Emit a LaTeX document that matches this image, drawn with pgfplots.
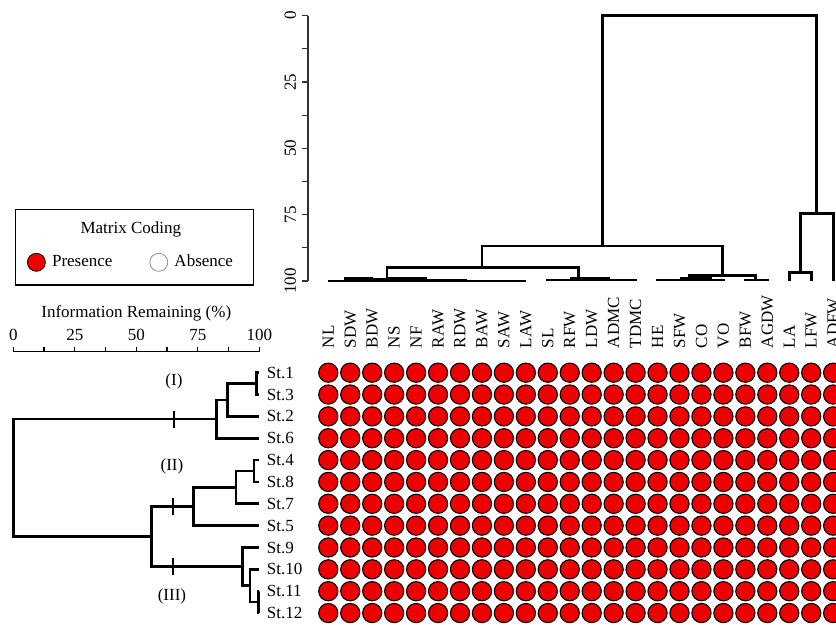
\documentclass[border=0pt]{standalone}
\usepackage{fontspec}
\setmainfont{Liberation Serif}
\usepackage{pgfplots}
\pgfplotsset{compat=1.18}
\definecolor{pres}{RGB}{238,0,0}
\begin{document}
\fontsize{17bp}{20bp}\selectfont
\begin{tikzpicture}[x=1bp,y=1bp]
\useasboundingbox (0,0) rectangle (836,625);
\clip (0,0) rectangle (836,625);
\pgfplotsset{
  every axis/.append style={font=\fontsize{17bp}{20bp}\selectfont, scale only axis, clip=false,
    /pgf/number format/assume math mode=true},
  dend/.style={black, line width=2.7bp, line join=miter},
  blob/.style={black, line width=4bp},
  cell/.style={only marks, mark=*, mark size=9.6bp, mark options={fill=pres, draw=black, line width=1.1bp}, forget plot},
}

% ---------------- matrix of circles ----------------
\begin{axis}[name=mat, at={(317.325bp,1.025bp)}, anchor=south west, width=526.8bp, height=262.2bp,
  xmin=-0.5, xmax=23.5, ymin=-0.5, ymax=11.5,
  axis line style={draw=none}, tick style={draw=none}, major tick length=0pt,
  xtick={0,...,23},
  xticklabels={NL,SDW,BDW,NS,NF,RAW,RDW,BAW,SAW,LAW,SL,RFW,LDW,ADMC,TDMC,HE,SFW,CO,VO,BFW,AGDW,LA,LFW,ADFW},
  xticklabel pos=right, xticklabel style={rotate=90, anchor=west, inner sep=0pt}, xticklabel shift=13.5bp,
  ytick={0,...,11},
  yticklabels={St.12,St.11,St.10,St.9,St.5,St.7,St.8,St.4,St.6,St.2,St.3,St.1},
  yticklabel style={anchor=west, inner sep=0pt, xshift=-50.6bp},
  legend columns=2,
  legend style={at={(axis description cs:-0.5508,1.3794)}, anchor=west, draw=none, fill=none, inner sep=0pt,
    nodes={inner sep=0pt},
    /tikz/every odd column/.append style={column sep=6.7bp},
    /tikz/every even column/.append style={column sep=37.3bp}},
]
\addplot[cell] coordinates {(0,11)(1,11)(2,11)(3,11)(4,11)(5,11)(6,11)(7,11)(8,11)(9,11)(10,11)(11,11)(12,11)(13,11)(14,11)(15,11)(16,11)(17,11)(18,11)(19,11)(20,11)(21,11)(22,11)(23,11)};
\addplot[cell] coordinates {(0,10)(1,10)(2,10)(3,10)(4,10)(5,10)(6,10)(7,10)(8,10)(9,10)(10,10)(11,10)(12,10)(13,10)(14,10)(15,10)(16,10)(17,10)(18,10)(19,10)(20,10)(21,10)(22,10)(23,10)};
\addplot[cell] coordinates {(0,9)(1,9)(2,9)(3,9)(4,9)(5,9)(6,9)(7,9)(8,9)(9,9)(10,9)(11,9)(12,9)(13,9)(14,9)(15,9)(16,9)(17,9)(18,9)(19,9)(20,9)(21,9)(22,9)(23,9)};
\addplot[cell] coordinates {(0,8)(1,8)(2,8)(3,8)(4,8)(5,8)(6,8)(7,8)(8,8)(9,8)(10,8)(11,8)(12,8)(13,8)(14,8)(15,8)(16,8)(17,8)(18,8)(19,8)(20,8)(21,8)(22,8)(23,8)};
\addplot[cell] coordinates {(0,7)(1,7)(2,7)(3,7)(4,7)(5,7)(6,7)(7,7)(8,7)(9,7)(10,7)(11,7)(12,7)(13,7)(14,7)(15,7)(16,7)(17,7)(18,7)(19,7)(20,7)(21,7)(22,7)(23,7)};
\addplot[cell] coordinates {(0,6)(1,6)(2,6)(3,6)(4,6)(5,6)(6,6)(7,6)(8,6)(9,6)(10,6)(11,6)(12,6)(13,6)(14,6)(15,6)(16,6)(17,6)(18,6)(19,6)(20,6)(21,6)(22,6)(23,6)};
\addplot[cell] coordinates {(0,5)(1,5)(2,5)(3,5)(4,5)(5,5)(6,5)(7,5)(8,5)(9,5)(10,5)(11,5)(12,5)(13,5)(14,5)(15,5)(16,5)(17,5)(18,5)(19,5)(20,5)(21,5)(22,5)(23,5)};
\addplot[cell] coordinates {(0,4)(1,4)(2,4)(3,4)(4,4)(5,4)(6,4)(7,4)(8,4)(9,4)(10,4)(11,4)(12,4)(13,4)(14,4)(15,4)(16,4)(17,4)(18,4)(19,4)(20,4)(21,4)(22,4)(23,4)};
\addplot[cell] coordinates {(0,3)(1,3)(2,3)(3,3)(4,3)(5,3)(6,3)(7,3)(8,3)(9,3)(10,3)(11,3)(12,3)(13,3)(14,3)(15,3)(16,3)(17,3)(18,3)(19,3)(20,3)(21,3)(22,3)(23,3)};
\addplot[cell] coordinates {(0,2)(1,2)(2,2)(3,2)(4,2)(5,2)(6,2)(7,2)(8,2)(9,2)(10,2)(11,2)(12,2)(13,2)(14,2)(15,2)(16,2)(17,2)(18,2)(19,2)(20,2)(21,2)(22,2)(23,2)};
\addplot[cell] coordinates {(0,1)(1,1)(2,1)(3,1)(4,1)(5,1)(6,1)(7,1)(8,1)(9,1)(10,1)(11,1)(12,1)(13,1)(14,1)(15,1)(16,1)(17,1)(18,1)(19,1)(20,1)(21,1)(22,1)(23,1)};
\addplot[cell] coordinates {(0,0)(1,0)(2,0)(3,0)(4,0)(5,0)(6,0)(7,0)(8,0)(9,0)(10,0)(11,0)(12,0)(13,0)(14,0)(15,0)(16,0)(17,0)(18,0)(19,0)(20,0)(21,0)(22,0)(23,0)};
\addlegendimage{only marks, mark=*, mark size=9bp, mark options={fill=pres, draw=black, line width=0.8bp}}
\addlegendentry{Presence}
\addlegendimage{only marks, mark=*, mark size=9bp, mark options={fill=white, draw=black!45, line width=0.8bp}}
\addlegendentry{Absence}
\end{axis}

% ---------------- top dendrogram (variables) ----------------
\begin{axis}[at={(308bp,344bp)}, anchor=south west, width=536.13bp, height=265.3bp,
  xmin=-0.9248, xmax=23.5, ymin=0, ymax=100, y dir=reverse,
  hide x axis, axis y line*=left,
  ytick={0,25,50,75,100}, minor ytick={12.5,37.5,62.5,87.5},
  tick align=outside, major tick length=6bp, minor tick length=6bp,
  ytick pos=left, yticklabel pos=left,
  yticklabel style={rotate=90, anchor=south},
  y axis line style={line width=1.2bp, black!80},
  every tick/.style={line width=1.2bp, black!80},
]
\addplot[dend] coordinates {(12.48,86.8)(12.48,0)(22.24,0)(22.24,74.5)};
\addplot[dend] coordinates {(21.5,96.9)(21.5,74.5)(23,74.5)(23,100)};
\addplot[dend] coordinates {(21,100)(21,96.9)(22,96.9)(22,100)};
\addplot[dend] coordinates {(7.0,95.0)(7.0,86.8)(17.96,86.8)(17.96,97.9)};
\addplot[dend] coordinates {(2.68,99.3)(2.68,95.0)(11.4,95.0)(11.4,99.3)};
\addplot[dend] coordinates {(16.46,99.4)(16.46,97.9)(19.47,97.9)(19.47,99.6)};
% group 1 (NL ... LAW)
\addplot[dend] coordinates {(0,100)(9,100)};
\addplot[blob] coordinates {(0.7,99.3)(2.05,99.3)};
\addplot[blob] coordinates {(2.66,99.4)(4.5,99.4)};
\addplot[dend] coordinates {(4.5,99.6)(6.33,99.6)};
\addplot[dend] coordinates {(1.37,99.2)(4.0,99.2)};
% group 2 (SL ... TDMC)
\addplot[dend] coordinates {(10,100)(10,99.6)(14,99.6)(14,100)};
\addplot[blob] coordinates {(11.0,99.3)(12.85,99.3)};
% group 3 (HE ... AGDW)
\addplot[dend] coordinates {(15,100)(15,99.6)(18,99.6)(18,100)};
\addplot[blob] coordinates {(16.0,99.3)(17.5,99.3)};
\addplot[dend] coordinates {(19,100)(19,99.6)(20,99.6)(20,100)};
\end{axis}

% ---------------- left dendrogram (stations) ----------------
\begin{axis}[at={(13.3bp,1.025bp)}, anchor=south west, width=246bp, height=272.29bp,
  xmin=0, xmax=100, ymin=-0.5, ymax=11.962,
  hide y axis, axis x line*=top, xtick pos=right, xticklabel pos=right,
  xtick={0,25,50,75,100}, minor xtick={12.5,37.5,62.5,87.5},
  tick align=outside, major tick length=5bp, minor tick length=5bp,
  x axis line style={line width=1.2bp, black},
  every tick/.style={line width=1.2bp, black},
  title={Information Remaining (\%)},
  title style={at={(axis description cs:0.5,1)}, anchor=center, yshift=32bp},
]
\addplot[dend] coordinates {(82.7,8.875)(0,8.875)(0,3.5)(56.3,3.5)};
\addplot[dend] coordinates {(100,11)(98.9,11)(98.9,10)(100,10)};
\addplot[dend] coordinates {(98.9,10.5)(87.2,10.5)(87.2,9)(100,9)};
\addplot[dend] coordinates {(87.2,9.75)(82.7,9.75)(82.7,8)(100,8)};
\addplot[dend] coordinates {(100,7)(97.8,7)(97.8,6)(100,6)};
\addplot[dend] coordinates {(97.8,6.5)(90.5,6.5)(90.5,5)(100,5)};
\addplot[dend] coordinates {(90.5,5.75)(73.2,5.75)(73.2,4)(100,4)};
\addplot[dend] coordinates {(73.2,4.875)(56.3,4.875)(56.3,2.125)(93.2,2.125)};
\addplot[dend] coordinates {(100,1)(99.6,1)(99.6,0)(100,0)};
\addplot[dend] coordinates {(99.6,0.5)(96.2,0.5)(96.2,2)(100,2)};
\addplot[dend] coordinates {(96.2,1.25)(93.2,1.25)(93.2,3)(100,3)};
% group cut markers
\addplot[black, line width=2.2bp] coordinates {(65.3,8.49)(65.3,9.26)};
\addplot[black, line width=2.2bp] coordinates {(64.8,4.49)(64.8,5.26)};
\addplot[black, line width=2.2bp] coordinates {(64.8,1.74)(64.8,2.51)};
\node at (axis cs:65.3,10.59) {(I)};
\node at (axis cs:64.5,6.7) {(II)};
\node at (axis cs:64.5,0.75) {(III)};
\end{axis}

% ---------------- legend frame ----------------
\draw[line width=1.2bp] (15.7,415.7) rectangle (253.3,340);
\node at (130.8,395.7) {Matrix Coding};
\end{tikzpicture}
\end{document}
